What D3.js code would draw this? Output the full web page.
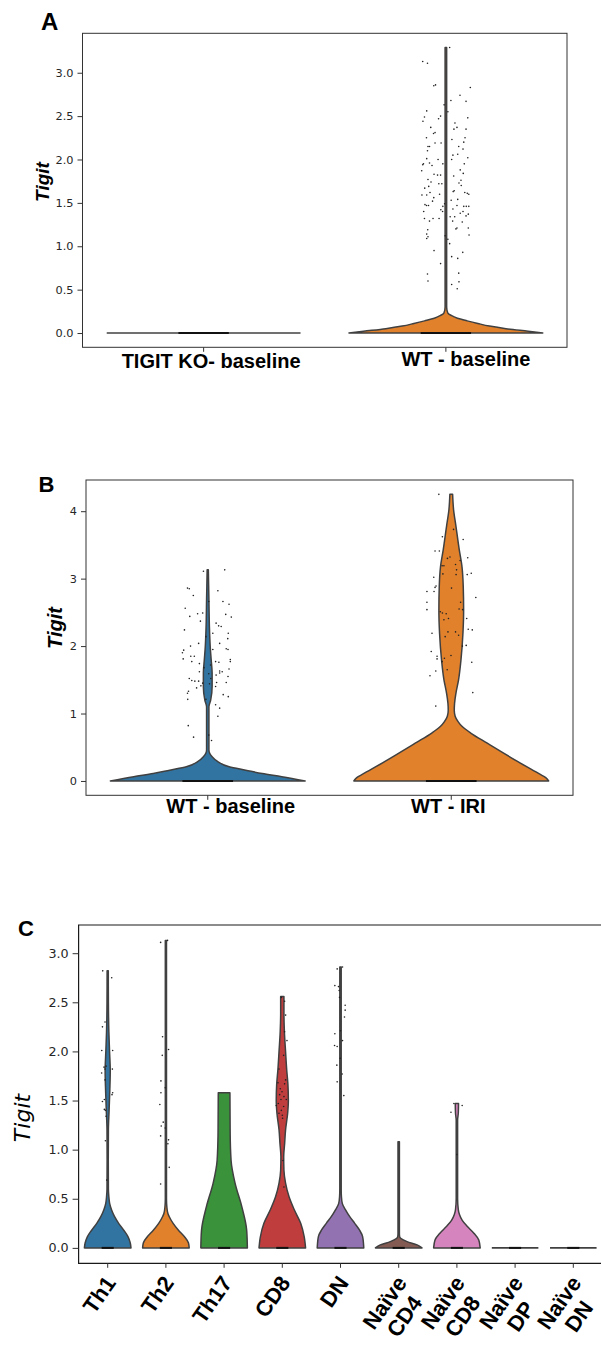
<!DOCTYPE html>
<html>
<head>
<meta charset="utf-8">
<script src="https://cdn.jsdelivr.net/npm/d3@7"></script>
<style>
  body { margin: 0; background: #fff; }
  svg { display: block; }
</style>
</head>
<body>
<svg id="fig" width="601" height="1354"></svg>
<script>
// ---------- data: panel A ----------
const catsA = ["TIGIT KO- baseline", "WT - baseline"];
const ticksA = [0, 0.5, 1, 1.5, 2, 2.5, 3];
// violin outline: [value, relative half width]
const profA_KO = [[0, 1]];
const profA_WT = [[0, 1], [0.02, 0.85], [0.05, 0.62], [0.08, 0.45], [0.11, 0.33], [0.14, 0.22],
  [0.17, 0.12], [0.2, 0.06], [0.23, 0.02], [0.3, 0.008], [3.29, 0.008]];
// expressing cells: [value, jitter]
const ptsA_KO = [];
const ptsA_WT = [[3.29,0.15],[3.13,-0.92],[3.11,-0.73],[2.86,-0.41],[2.85,-0.48],[2.83,0.97],[2.74,0.56],
  [2.68,0.20],[2.67,0.80],[2.63,-0.07],[2.56,-0.76],[2.49,-0.85],[2.44,-0.91],[2.50,-0.21],[2.47,-0.29],
  [2.48,0.87],[2.55,0.08],[2.42,0.36],[2.35,0.32],[2.37,0.44],[2.37,-0.60],[2.31,-0.43],[2.30,-0.49],
  [2.35,0.80],[2.25,-0.77],[2.23,0.24],[2.25,0.76],[2.20,0.71],[2.19,-0.19],[2.19,-0.43],[2.15,-0.65],
  [2.15,-0.71],[2.15,0.51],[2.12,0.68],[2.10,-0.73],[2.05,0.28],[2.06,0.47],[2.00,0.23],[2.01,-0.76],
  [2.00,-0.31],[1.96,-0.65],[1.95,-0.89],[1.94,-0.92],[1.93,-0.55],[2.02,0.87],[1.95,0.73],[1.95,-0.12],
  [1.87,-0.96],[1.88,0.57],[1.84,0.69],[1.81,0.31],[1.83,-0.47],[1.82,-0.33],[1.82,-0.21],[1.77,-0.71],
  [1.67,-0.84],[1.69,-0.68],[1.74,-0.59],[1.76,0.60],[1.73,0.52],[1.70,0.61],[1.72,-0.28],[1.72,-0.16],
  [1.62,-0.63],[1.59,-0.95],[1.59,-0.76],[1.60,-0.25],[1.63,0.29],[1.64,0.33],[1.62,0.75],[1.61,0.85],
  [1.60,0.91],[1.54,0.47],[1.53,0.21],[1.56,-0.48],[1.52,-0.53],[1.48,-0.83],[1.47,-0.69],[1.47,-0.77],
  [1.49,-0.05],[1.46,-0.12],[1.47,0.44],[1.46,0.71],[1.46,0.81],[1.46,0.91],[1.40,-0.88],[1.42,-0.20],
  [1.40,-0.13],[1.43,0.28],[1.40,0.68],[1.38,0.57],[1.37,0.89],[1.35,0.80],[1.34,0.35],[1.32,-0.85],
  [1.29,-0.65],[1.32,-0.51],[1.32,-0.27],[1.34,0.17],[1.29,0.27],[1.28,0.65],[1.21,0.44],[1.20,0.40],
  [1.21,0.89],[1.19,-0.72],[1.14,-0.76],[1.11,-0.71],[1.09,-0.76],[1.12,-0.03],[1.08,0.08],[1.03,0.15],
  [1.13,0.92],[0.95,-0.47],[0.80,-0.21],[0.88,0.23],[0.86,0.47],[0.93,0.67],[0.68,-0.73],[0.60,-0.71],
  [0.69,0.51],[0.56,0.23],[0.59,0.52],[0.51,0.45]];

// ---------- data: panel B ----------
const catsB = ["WT - baseline", "WT - IRI"];
const ticksB = [0, 1, 2, 3, 4];
const profB_base = [[0,1],[0.064,0.76],[0.11,0.56],[0.16,0.39],[0.21,0.22],[0.29,0.10],[0.36,0.045],
  [0.41,0.02],[0.46,0.012],[1.10,0.012],[1.2,0.03],[1.4,0.045],[1.6,0.045],[1.8,0.035],[2.0,0.025],
  [2.29,0.017],[2.69,0.012],[3.13,0.006]];
const profB_IRI = [[0,1],[0.05,0.97],[0.1,0.91],[0.29,0.68],[0.56,0.37],[0.71,0.2],[0.81,0.11],[0.88,0.07],
  [0.96,0.04],[1.05,0.031],[1.15,0.034],[1.30,0.048],[1.50,0.075],[1.80,0.10],[2.19,0.12],[2.54,0.127],
  [2.89,0.123],[3.18,0.11],[3.43,0.082],[3.78,0.048],[4.02,0.024],[4.25,0.014]];
const ptsB_base = [[3.13,0.67],[3.11,-0.17],[2.86,-0.80],[2.85,-0.73],[2.82,0.40],[2.75,-0.57],[2.66,0.04],
  [2.66,0.60],[2.62,0.84],[2.56,-0.89],[2.44,-0.71],[2.48,-0.40],[2.49,-0.20],[2.34,0.33],[2.43,0.93],
  [2.47,0.71],[2.37,-0.29],[2.30,0.43],[2.29,0.53],[2.19,0.20],[2.19,0.81],[2.24,-0.92],[2.11,0.79],
  [2.14,-0.07],[2.04,0.47],[2.04,-0.36],[2.00,-0.68],[1.94,-0.95],[1.90,-1.0],[1.81,-0.97],[1.85,-0.67],
  [1.85,-0.53],[1.96,0.73],[1.95,0.80],[1.95,0.20],[1.80,0.89],[1.77,0.89],[1.77,-0.63],[1.66,0.84],
  [1.74,-0.33],[1.72,0.11],[1.77,0.31],[1.76,0.44],[1.68,-0.15],[1.62,-0.33],[1.62,0.57],[1.63,0.47],
  [1.60,0.47],[1.57,0.33],[1.55,0.80],[1.59,0.04],[1.52,0.12],[1.52,-0.73],[1.49,-0.63],[1.48,-0.36],
  [1.48,-0.51],[1.45,-0.20],[1.46,0.35],[1.46,0.73],[1.44,0.07],[1.40,0.31],[1.41,-0.27],[1.38,-0.44],
  [1.33,-0.76],[1.30,-0.80],[1.28,0.61],[1.25,0.81],[1.21,-0.79],[1.21,-0.07],[1.13,0.31],[1.08,0.47],
  [0.96,0.40],[0.82,-0.77],[0.65,-0.56],[0.68,0.04],[0.60,0.15]];
const ptsB_IRI = [[4.25,-0.49],[3.73,0.09],[3.62,-0.35],[3.58,0.47],[3.41,-0.64],[3.41,-0.47],[3.32,-0.05],
  [3.30,-0.15],[3.27,0.35],[3.31,0.65],[3.19,-0.36],[3.19,-0.29],[3.21,0.17],[3.13,0.21],[3.07,-0.33],
  [3.06,0.19],[3.06,0.63],[3.08,0.79],[3.02,-0.69],[2.89,-0.60],[2.87,-0.64],[2.86,0.01],[2.81,-0.96],
  [2.81,-0.68],[2.72,0.97],[2.65,-0.96],[2.65,0.37],[2.54,-0.96],[2.55,0.31],[2.54,0.45],[2.51,-0.43],
  [2.49,-0.35],[2.48,-0.20],[2.41,-0.11],[2.39,-0.29],[2.41,0.61],[2.25,0.67],[2.24,0.83],[2.19,-0.76],
  [2.21,-0.13],[2.21,0.17],[2.16,0.29],[2.14,-0.24],[2.01,0.59],[2.00,0.44],[1.92,-0.79],[1.86,-0.01],
  [1.85,-0.56],[1.81,-0.56],[1.77,-0.36],[1.82,-0.27],[1.76,0.81],[1.65,-0.16],[1.63,-0.61],[1.56,-0.84],
  [1.31,0.85],[1.11,-0.61]];

// ---------- data: panel C ----------
const catsC = ["Th1", "Th2", "Th17", "CD8", "DN", "Naïve\nCD4", "Naïve\nCD8", "Naïve\nDP", "Naïve\nDN"];
const ticksC = [0, 0.5, 1, 1.5, 2, 2.5, 3];
const profTh1 = [[0,1],[0.05,0.97],[0.115,0.87],[0.18,0.69],[0.25,0.47],[0.32,0.29],[0.39,0.16],[0.45,0.086],
  [0.52,0.05],[0.6,0.03],[0.9,0.025],[1.2,0.03],[1.4,0.06],[1.6,0.09],[1.8,0.11],[2.0,0.08],[2.2,0.05],
  [2.5,0.03],[2.82,0.025]];
const profTh2 = [[0,1],[0.05,0.97],[0.115,0.79],[0.18,0.54],[0.25,0.31],[0.32,0.14],[0.35,0.086],[0.42,0.04],
  [0.5,0.025],[3.13,0.025]];
const profTh17 = [[0,1],[0.18,0.97],[0.42,0.76],[0.66,0.47],[0.89,0.30],[1.17,0.26],[1.58,0.25]];
const profCD8 = [[0,1],[0.115,0.94],[0.25,0.79],[0.39,0.51],[0.52,0.29],[0.66,0.14],[0.79,0.07],[0.93,0.06],
  [1.06,0.10],[1.2,0.14],[1.37,0.23],[1.5,0.26],[1.67,0.24],[1.81,0.19],[2.0,0.14],[2.2,0.09],[2.4,0.07],
  [2.56,0.07]];
const profDN = [[0,1],[0.115,0.95],[0.18,0.82],[0.25,0.61],[0.32,0.39],[0.39,0.21],[0.45,0.08],[0.52,0.04],
  [0.6,0.03],[2.86,0.03]];
const profNCD4 = [[0,1],[0.03,0.79],[0.064,0.36],[0.095,0.1],[0.115,0.04],[0.15,0.03],[1.08,0.03]];
const profNCD8 = [[0,1],[0.08,0.94],[0.15,0.73],[0.22,0.44],[0.28,0.23],[0.34,0.11],[0.39,0.06],[0.5,0.03],
  [1.3,0.03],[1.37,0.06],[1.47,0.07]];
const profNDP = [[0, 1]];
const profNDN = [[0, 1]];
const ptsTh1 = [[2.82,-0.82],[2.75,0.66],[2.30,-0.44],[2.25,-0.87],[2.01,-0.98],[2.01,0.82],[1.85,-0.27],
  [1.84,-0.60],[1.82,-0.44],[1.82,0.77],[1.78,-1.0],[1.71,-0.44],[1.58,0.82],[1.56,0.71],[1.51,-0.55],
  [1.49,-0.87],[1.41,-0.55],[1.40,-0.38],[1.34,-0.27],[1.09,-0.38],[0.69,-0.16]];
const ptsTh2 = [[3.11,-0.87],[3.13,0.27],[2.15,-0.55],[1.96,-0.6],[2.02,0.44],[1.70,-0.82],[1.58,-0.82],
  [1.63,-0.11],[1.46,-1.0],[1.28,-0.44],[1.24,-0.77],[1.22,-0.11],[1.14,-0.87],[1.10,0.44],[1.06,0.33],
  [0.82,0.55],[0.65,-0.87]];
const ptsTh17 = [];
const ptsCD8 = [[2.55,-0.16],[2.51,0.38],[2.37,0.55],[2.20,0.38],[2.11,0.77],[1.96,0.22],[1.82,-0.55],
  [1.71,0.55],[1.67,0.38],[1.59,-0.05],[1.56,-0.44],[1.54,0.27],[1.45,-1.0],[1.40,-0.16],[1.37,-0.55],
  [1.32,0.05],[1.51,-0.22],[1.51,0.66],[1.47,-0.66],[1.44,0.22],[1.35,0],[1.62,-0.33],[1.68,-0.71],
  [0.62,0.27],[0.89,0.11]];
const ptsDN = [[2.84,-0.55],[2.86,0.33],[2.67,-0.93],[2.66,-0.33],[2.62,-0.22],[2.55,-0.16],[2.47,0.77],
  [2.42,0.77],[2.35,0.66],[2.18,-0.93],[2.06,-0.98],[2.05,-0.55],[2.11,0.33],[1.86,-0.6],[1.77,0.27],
  [1.69,-0.55],[1.55,0.55],[1.93,-0.05],[2.21,0]];
const ptsNCD4 = [];
const ptsNCD8 = [[1.47,-0.49],[1.45,0.87],[1.38,-0.98],[0.95,0]];
const ptsNDP = [];
const ptsNDN = [];

// seaborn-desaturated tab10
const colorsAB = ["#3274a1", "#e1812c"];
const colorsC = ["#3274a1", "#e1812c", "#3a923a", "#c03d3e", "#9372b2", "#845b53", "#d684bd", "#7f7f7f", "#a9aa35"];

const svg = d3.select("#fig");
const LINE = "#404040";
const SANS = "Liberation Sans, Arial, sans-serif";

function drawViolins(g, x, y, profiles, points, colors) {
  const hw = x.step() * 0.4;       // violin half width
  const jw = x.step() * 0.104;     // strip jitter half width
  x.domain().forEach((c, i) => {
    const cx = x(c) + x.bandwidth() / 2;
    const prof = profiles[i];
    if (prof.length < 2) {
      // all cells at zero: flat violin
      g.append("line")
        .attr("x1", cx - hw).attr("x2", cx + hw)
        .attr("y1", y(0)).attr("y2", y(0))
        .attr("stroke", LINE).attr("stroke-width", 1.6);
    } else {
      const area = d3.area()
        .curve(d3.curveMonotoneY)
        .y(d => y(d[0]))
        .x0(d => cx - d[1] * hw)
        .x1(d => cx + d[1] * hw);
      g.append("path")
        .attr("d", area(prof))
        .attr("fill", colors[i])
        .attr("stroke", LINE)
        .attr("stroke-width", 1.5)
        .attr("stroke-linejoin", "round");
    }
    // the many zero-valued cells pile into a dark bar
    g.append("line")
      .attr("x1", cx - jw).attr("x2", cx + jw)
      .attr("y1", y(0)).attr("y2", y(0))
      .attr("stroke", "#111").attr("stroke-width", 2);
    g.selectAll(null)
      .data(points[i])
      .join("circle")
      .attr("cx", d => cx + d[1] * jw)
      .attr("cy", d => y(d[0]))
      .attr("r", 0.8)
      .attr("fill", "#222");
  });
}

function yAxis(g, y, ticks, fmt, size, len) {
  const ax = g.append("g")
    .attr("transform", `translate(${y.x0},0)`)
    .call(d3.axisLeft(y).tickValues(ticks).tickFormat(fmt).tickSize(len).tickPadding(4));
  ax.select(".domain").remove();
  ax.selectAll(".tick line").attr("stroke", "#333");
  ax.selectAll(".tick text")
    .attr("fill", "#262626")
    .style("font-family", "DejaVu Sans")
    .style("font-size", size + "px");
}

function xTicks(g, x, yb) {
  const ax = g.append("g")
    .attr("transform", `translate(0,${yb})`)
    .call(d3.axisBottom(x).tickSize(4.5).tickFormat(""));
  ax.select(".domain").remove();
  ax.selectAll(".tick line").attr("stroke", "#333");
}

function letter(txt, x0, y0, size) {
  svg.append("text").attr("x", x0).attr("y", y0).text(txt)
    .style("font-family", SANS)
    .style("font-weight", "bold").style("font-size", size + "px");
}

function vLabel(x0, y0, size, bold, family) {
  svg.append("text")
    .attr("transform", `translate(${x0},${y0}) rotate(-90)`)
    .attr("text-anchor", "middle")
    .attr("dominant-baseline", "central")
    .text("Tigit")
    .style("font-family", family)
    .style("font-style", "italic")
    .style("font-weight", bold ? "bold" : "normal")
    .style("font-size", size + "px");
}

// ---------- panel A ----------
{
  const box = { l: 82.5, t: 33.3, r: 567, b: 347.3 };
  const x = d3.scaleBand().domain(catsA).range([box.l, box.r]);
  const y = d3.scaleLinear().domain([-0.1645, 3.4545]).range([box.b, box.t]);
  y.x0 = box.l;
  const g = svg.append("g");
  drawViolins(g, x, y, [profA_KO, profA_WT], [ptsA_KO, ptsA_WT], colorsAB);
  g.append("rect").attr("x", box.l).attr("y", box.t)
    .attr("width", box.r - box.l).attr("height", box.b - box.t)
    .attr("fill", "none").attr("stroke", "#333").attr("stroke-width", 1);
  yAxis(g, y, ticksA, d3.format(".1f"), 11.3, 5);
  xTicks(g, x, box.b);
  const shift = [7.5, 20];
  const base = [368.3, 365.7];
  catsA.forEach((c, i) => {
    g.append("text")
      .attr("x", x(c) + x.bandwidth() / 2 + shift[i]).attr("y", base[i])
      .attr("text-anchor", "middle").text(c)
      .style("font-family", SANS)
      .style("font-weight", "bold").style("font-size", "20px");
  });
  letter("A", 41, 30, 24);
  vLabel(42, 182, 19, true, SANS);
}

// ---------- panel B ----------
{
  const box = { l: 86, t: 480, r: 573, b: 795.3 };
  const x = d3.scaleBand().domain(catsB).range([box.l, box.r]);
  const y = d3.scaleLinear().domain([-0.2125, 4.4625]).range([box.b, box.t]);
  y.x0 = box.l;
  const g = svg.append("g");
  drawViolins(g, x, y, [profB_base, profB_IRI], [ptsB_base, ptsB_IRI], colorsAB);
  g.append("rect").attr("x", box.l).attr("y", box.t)
    .attr("width", box.r - box.l).attr("height", box.b - box.t)
    .attr("fill", "none").attr("stroke", "#333").attr("stroke-width", 1);
  yAxis(g, y, ticksB, d3.format("d"), 11.3, 5);
  xTicks(g, x, box.b);
  const shift = [23, -3];
  catsB.forEach((c, i) => {
    g.append("text")
      .attr("x", x(c) + x.bandwidth() / 2 + shift[i]).attr("y", 812.7)
      .attr("text-anchor", "middle").text(c)
      .style("font-family", SANS)
      .style("font-weight", "bold").style("font-size", "20px");
  });
  letter("B", 38.5, 491.7, 22);
  vLabel(55, 628, 20, true, SANS);
}

// ---------- panel C ----------
{
  const box = { l: 78.6, t: 925, r: 602.4, b: 1263.3 };
  const x = d3.scaleBand().domain(catsC).range([box.l, box.r]);
  const y = d3.scaleLinear().domain([-0.157, 3.287]).range([box.b, box.t]);
  y.x0 = box.l;
  const g = svg.append("g");
  drawViolins(g, x, y,
    [profTh1, profTh2, profTh17, profCD8, profDN, profNCD4, profNCD8, profNDP, profNDN],
    [ptsTh1, ptsTh2, ptsTh17, ptsCD8, ptsDN, ptsNCD4, ptsNCD8, ptsNDP, ptsNDN],
    colorsC);
  g.append("path")
    .attr("d", `M${box.r},${box.t}H${box.l}V${box.b}H${box.r}`)
    .attr("fill", "none").attr("stroke", "#1a1a1a").attr("stroke-width", 1.2);
  yAxis(g, y, ticksC, d3.format(".1f"), 12.7, 6);
  xTicks(g, x, box.b);
  const ang = 55, lh = 24, fs = 22;
  catsC.forEach(c => {
    const lines = c.split("\n");
    const lg = g.append("g")
      .attr("transform", `translate(${x(c) + x.bandwidth() / 2 + 9},1283) rotate(${-ang})`);
    const t0 = lg.append("text").text(lines[0])
      .attr("font-family", SANS).attr("font-weight", "bold").attr("font-size", fs);
    const w = t0.node().getComputedTextLength();
    t0.attr("x", -w / 2).attr("text-anchor", "middle");
    lines.slice(1).forEach((s, k) => {
      lg.append("text").text(s)
        .attr("x", -w / 2).attr("y", lh * (k + 1)).attr("text-anchor", "middle")
        .attr("font-family", SANS).attr("font-weight", "bold").attr("font-size", fs);
    });
  });
  letter("C", 18, 935.7, 22);
  vLabel(22, 1118, 22, false, "DejaVu Sans");
}
</script>
</body>
</html>
